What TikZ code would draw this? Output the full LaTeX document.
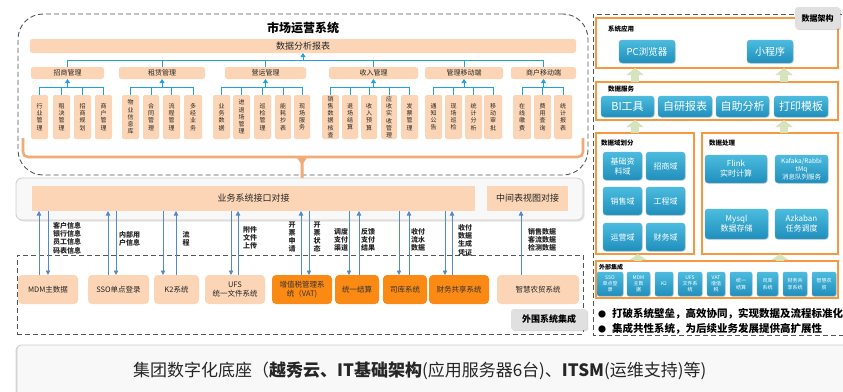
\documentclass[tikz,border=0pt]{standalone}
\usepackage{fontspec}
\setmainfont{Noto Sans CJK SC}
\usetikzlibrary{arrows.meta,shadows}
\definecolor{peach}{RGB}{251,213,181}
\definecolor{orangeF}{RGB}{250,138,20}
\definecolor{cyanL}{RGB}{30,160,225}
\definecolor{blueA}{RGB}{85,135,205}
\definecolor{tealT}{RGB}{75,188,222}
\definecolor{tealB}{RGB}{32,142,188}
\definecolor{orangeB}{RGB}{248,152,62}
\definecolor{orangeL}{RGB}{242,170,118}
\definecolor{greenA}{RGB}{214,228,190}
\definecolor{grayL}{RGB}{224,224,224}
\definecolor{dashgray}{RGB}{85,85,85}
\definecolor{panelF}{RGB}{248,248,248}
\definecolor{panelD}{RGB}{205,205,205}

\newcommand\mybox[7]{%
 \pgfmathsetmacro\mbw{#4-#2}%
 \pgfmathsetmacro\mbh{#5-#3}%
 \pgfmathsetmacro\mbx{(#2+#4)/2}%
 \pgfmathsetmacro\mby{(#3+#5)/2}%
 \node[inner sep=0pt, outer sep=0pt, minimum width=\mbw pt, minimum height=\mbh pt, #6] (#1) at (\mbx,\mby) {#7};}
\newcommand\subb[4]{\mybox{#1}{#2}{95}{#3}{139}{subbox}{#4}}

\tikzset{
 frame/.style={draw=dashgray, dash pattern=on 5pt off 3pt, line width=0.9pt},
 pch/.style={fill=peach, rounded corners=2.5pt, text=black!85},
 cat/.style={pch, font=\fontsize{7}{8}\selectfont},
 subbox/.style={pch, rounded corners=1.5pt, align=center, font=\fontsize{6}{7.2}\selectfont},
 cl/.style={draw=cyanL, line width=0.8pt},
 cla/.style={cl, -{Triangle[width=5pt,length=4pt]}},
 ba/.style={draw=blueA, line width=0.8pt, -{Triangle[width=4.5pt,length=4.5pt]}},
 lab/.style={font=\bfseries\fontsize{7}{8.3}\selectfont, align=center, inner sep=0pt, text=black!85},
 extp/.style={pch, rounded corners=4pt, align=center, font=\fontsize{7.5}{9}\selectfont},
 exto/.style={extp, fill=orangeF, text=black!80},
 obox/.style={draw=orangeB, line width=1.4pt},
 btn/.style={rounded corners=3pt, top color=tealT, bottom color=tealB, draw=tealB!70, text=white, align=center,
   drop shadow={opacity=0.25, shadow xshift=0.8pt, shadow yshift=-0.8pt}},
 ttl/.style={anchor=west, font=\bfseries\fontsize{6.5}{7}\selectfont, inner sep=0pt},
 garr/.style={draw=greenA, line width=8pt, -{Triangle[width=17pt,length=7pt]}},
 glab/.style={fill=grayL, rounded corners=3pt, font=\bfseries\fontsize{9}{10}\selectfont,
   drop shadow={opacity=0.3, shadow xshift=1.2pt, shadow yshift=-1.2pt}},
 panel/.style={fill=panelF, draw=panelD, line width=0.8pt, rounded corners=6pt,
   drop shadow={opacity=0.2, shadow xshift=1.5pt, shadow yshift=-1.5pt}},
}

\begin{document}
\begin{tikzpicture}[x=1pt,y=-1pt]
\useasboundingbox (0,0) rectangle (843,391);
\clip (0,0) rectangle (843,391);
\fill[white] (0,0) rectangle (843,391);

% ================= market system =================
\mybox{mkt}{18}{14}{588}{175}{frame, rounded corners=25pt}{}
\node[font=\bfseries\fontsize{12}{13}\selectfont, inner sep=0pt] (mtitle) at (303,28) {市场运营系统};
\mybox{rep}{30}{39}{576}{53}{pch, font=\fontsize{9}{10}\selectfont}{数据分析报表}

\mybox{c1}{31}{67}{104}{79}{cat}{招商管理}
\mybox{c2}{119}{67}{205}{79}{cat}{租赁管理}
\mybox{c3}{225}{67}{306}{79}{cat}{营运管理}
\mybox{c4}{329}{67}{418}{79}{cat}{收入管理}
\mybox{c5}{425}{67}{503}{79}{cat}{管理移动端}
\mybox{c6}{511}{67}{576}{79}{cat}{商户移动端}

\coordinate (hub) at (rep.south |- 0,60);
\foreach \c in {c1,c2,c3,c4,c5,c6} \draw[cl] (\c.north) |- (hub);
\draw[cla] (hub) -- (rep.south);

\subb{s11}{31}{48}{行\\业\\管\\理}
\subb{s12}{53}{70}{租\\决\\管\\理}
\subb{s13}{74}{91}{招\\商\\规\\划}
\subb{s14}{95}{112}{商\\户\\管\\理}

\subb{s21}{122}{139}{物\\业\\信\\息\\库}
\subb{s22}{143}{159}{合\\同\\管\\理}
\subb{s23}{163}{180}{流\\程\\管\\理}
\subb{s24}{184}{202}{多\\经\\业\\务}

\subb{s31}{213}{230}{业\\务\\数\\据}
\subb{s32}{233}{250}{进\\退\\场\\管\\理}
\subb{s33}{254}{271}{巡\\检\\管\\理}
\subb{s34}{275}{291}{能\\耗\\抄\\表}
\subb{s35}{294}{310}{现\\场\\服\\务}

\subb{s41}{322}{339}{销\\售\\数\\据\\核\\查}
\subb{s42}{342}{358}{退\\场\\结\\算}
\subb{s43}{361}{377}{收\\入\\预\\算}
\subb{s44}{381}{397}{应\\收\\实\\收\\管\\理}
\subb{s45}{401}{418}{发\\票\\管\\理}

\subb{s51}{425}{442}{通\\知\\公\\告}
\subb{s52}{445}{462}{现\\场\\巡\\检}
\subb{s53}{465}{482}{统\\计\\分\\析}
\subb{s54}{484}{502}{移\\动\\审\\批}

\subb{s61}{513}{531}{在\\线\\缴\\费}
\subb{s62}{534}{551}{费\\用\\查\\询}
\subb{s63}{554}{572}{统\\计\\报\\表}

\foreach \i in {1,...,6} \coordinate (h\i) at (c\i.south |- 0,87);
\foreach \s in {s11,s12,s13,s14} \draw[cl] (\s.north) |- (h1);
\foreach \s in {s21,s22,s23,s24} \draw[cl] (\s.north) |- (h2);
\foreach \s in {s31,s32,s33,s34,s35} \draw[cl] (\s.north) |- (h3);
\foreach \s in {s41,s42,s43,s44,s45} \draw[cl] (\s.north) |- (h4);
\foreach \s in {s51,s52,s53,s54} \draw[cl] (\s.north) |- (h5);
\foreach \s in {s61,s62,s63} \draw[cl] (\s.north) |- (h6);
\foreach \i in {1,...,6} \draw[cla] (h\i) -- (c\i.south);

% orange bracket
\draw[orangeL, line width=2.6pt, rounded corners=5pt] (23,138) |- (583,157) -- (583,138);
\fill[orangeL] (296,156) -- (308,156) -- (303.5,163) -- (303.5,180) -- (300.5,180) -- (300.5,163) -- cycle;

% ================= interface panel =================
\mybox{ifp}{16}{178}{583}{220}{panel}{}
\mybox{ifbar}{32}{186}{475}{211}{fill=peach, font=\fontsize{9}{10}\selectfont, text=black!85}{业务系统接口对接}
\mybox{midbar}{487}{186}{568}{211}{fill=peach, font=\fontsize{9}{10}\selectfont, text=black!85}{中间表视图对接}

% ================= external systems =================
\mybox{ext}{17}{255}{583}{334}{frame}{}
\mybox{e1}{18}{275}{78}{304}{extp}{MDM主数据}
\mybox{e2}{88}{275}{149}{304}{extp}{SSO单点登录}
\mybox{e3}{154}{275}{199}{304}{extp}{K2系统}
\mybox{e4}{205}{275}{265}{304}{extp}{UFS\\统一文件系统}
\mybox{e5}{272}{275}{332}{304}{exto}{增值税管理系\\统（VAT)}
\mybox{e6}{335}{275}{379}{304}{exto}{统一结算}
\mybox{e7}{383}{275}{427}{304}{exto}{司库系统}
\mybox{e8}{429}{275}{489}{304}{exto}{财务共享系统}
\mybox{e9}{497}{275}{579}{304}{extp}{智慧农贸系统}
\mybox{extlab}{511}{309}{587}{330}{glab}{外围系统集成}

% arrows up (box -> bar) and down (bar -> box)
\draw[ba] (e1.north -| 39,0) -- (ifbar.south -| 39,0);
\draw[ba] (ifbar.south -| 48,0) -- (e1.north -| 48,0);
\draw[ba] (e2.north -| 108,0) -- (ifbar.south -| 108,0);
\draw[ba] (ifbar.south -| 116,0) -- (e2.north -| 116,0);
\draw[ba] (ifbar.south -| 163,0) -- (e3.north -| 163,0);
\draw[ba] (e3.north -| 176,0) -- (ifbar.south -| 176,0);
\draw[ba] (ifbar.south -| 231,0) -- (e4.north -| 231,0);
\draw[ba] (e4.north -| 238,0) -- (ifbar.south -| 238,0);
\draw[ba] (e5.north -| 301,0) -- (ifbar.south -| 301,0);
\draw[ba] (ifbar.south -| 309,0) -- (e5.north -| 309,0);
\draw[ba] (ifbar.south -| 349,0) -- (e6.north -| 349,0);
\draw[ba] (e6.north -| 359,0) -- (ifbar.south -| 359,0);
\draw[ba] (ifbar.south -| 399,0) -- (e7.north -| 399,0);
\draw[ba] (e7.north -| 409,0) -- (ifbar.south -| 409,0);
\draw[ba] (ifbar.south -| 445,0) -- (e8.north -| 445,0);
\draw[ba] (e8.north -| 452,0) -- (ifbar.south -| 452,0);
\draw[ba] (e9.north -| 521,0) -- (midbar.south -| 521,0);

\node[lab, align=left, anchor=west] (l1) at (53,238) {客户信息\\银行信息\\员工信息\\码表信息};
\node[lab, align=left, anchor=west] (l2) at (119,239) {内部用\\户信息};
\node[lab] (l3) at (186,239) {流\\程};
\node[lab] (l4) at (250,238) {附件\\文件\\上传};
\node[lab] (l5) at (292,237) {开\\票\\申\\请};
\node[lab] (l6) at (317,237) {开\\票\\状\\态};
\node[lab] (l7) at (341,240) {调度\\支付\\渠道};
\node[lab] (l8) at (368,240) {反馈\\支付\\结果};
\node[lab] (l9) at (418,240) {收付\\流水\\数据};
\node[lab] (l10) at (465,240) {收付\\数据\\生成\\凭证};
\node[lab] (l11) at (542,240) {销售数据\\客流数据\\检测数据};

% ================= data architecture =================
\draw[frame] (850,14) -- (593,14) -- (593,335) -- (850,335);

\mybox{sysapp}{596}{18}{838}{68}{obox}{}
\node[ttl] (t1) at (608,29) {系统应用};
\mybox{pc}{619}{40}{675}{63}{btn, font=\fontsize{9.5}{10}\selectfont}{PC浏览器}
\mybox{mini}{747}{40}{793}{63}{btn, font=\fontsize{10}{11}\selectfont}{小程序}

\mybox{dsvc}{596}{82}{838}{120}{obox}{}
\node[ttl] (t2) at (608,89) {数据服务};
\mybox{bi}{601}{96}{654}{117}{btn, font=\fontsize{11}{12}\selectfont}{BI工具}
\mybox{zy}{658}{96}{712}{117}{btn, font=\fontsize{11}{12}\selectfont}{自研报表}
\mybox{zz}{716}{96}{769}{117}{btn, font=\fontsize{11}{12}\selectfont}{自助分析}
\mybox{dy}{774}{96}{828}{117}{btn, font=\fontsize{11}{12}\selectfont}{打印模板}

\mybox{ddom}{596}{133}{694}{254}{obox}{}
\node[ttl] (t3) at (601,143) {数据域划分};
\mybox{d1}{603}{152}{642}{180}{btn, font=\fontsize{8}{10}\selectfont}{基础资\\料域}
\mybox{d2}{646}{152}{685}{180}{btn, font=\fontsize{8}{10}\selectfont}{招商域}
\mybox{d3}{603}{187}{642}{215}{btn, font=\fontsize{8}{10}\selectfont}{销售域}
\mybox{d4}{646}{187}{685}{215}{btn, font=\fontsize{8}{10}\selectfont}{工程域}
\mybox{d5}{603}{223}{642}{251}{btn, font=\fontsize{8}{10}\selectfont}{运营域}
\mybox{d6}{646}{223}{685}{251}{btn, font=\fontsize{8}{10}\selectfont}{财务域}

\mybox{dproc}{702}{133}{838}{254}{obox}{}
\node[ttl] (t4) at (709,143) {数据处理};
\mybox{p1}{705}{155}{767}{183}{btn, font=\fontsize{8}{10}\selectfont}{Flink\\实时计算}
\mybox{p2}{775}{155}{828}{183}{btn, font=\fontsize{6.5}{8}\selectfont}{Kafaka/Rabbi\\tMq\\消息队列服务}
\mybox{p3}{705}{209}{768}{239}{btn, font=\fontsize{8}{10}\selectfont}{Mysql\\数据存储}
\mybox{p4}{775}{209}{828}{239}{btn, font=\fontsize{8}{10}\selectfont}{Azkaban\\任务调度}

\mybox{extint}{596}{261}{838}{298}{obox}{}
\node[ttl, font=\bfseries\fontsize{6}{7}\selectfont] (t5) at (599,267) {外部集成};
\mybox{x1}{597}{272}{623}{296}{btn, rounded corners=2pt, font=\fontsize{5}{6.3}\selectfont}{SSO\\单点登\\录}
\mybox{x2}{627}{272}{650}{296}{btn, rounded corners=2pt, font=\fontsize{5}{6.3}\selectfont}{MDM\\主数\\据}
\mybox{x3}{655}{272}{673}{296}{btn, rounded corners=2pt, font=\fontsize{5}{6.3}\selectfont}{K2}
\mybox{x4}{678}{272}{702}{296}{btn, rounded corners=2pt, font=\fontsize{5}{6.3}\selectfont}{UFS\\文件系\\统}
\mybox{x5}{707}{272}{725}{296}{btn, rounded corners=2pt, font=\fontsize{5}{6.3}\selectfont}{VAT\\增值\\税}
\mybox{x6}{730}{272}{752}{296}{btn, rounded corners=2pt, font=\fontsize{5}{6.3}\selectfont}{统一\\结算}
\mybox{x7}{757}{272}{778}{296}{btn, rounded corners=2pt, font=\fontsize{5}{6.3}\selectfont}{司库\\系统}
\mybox{x8}{783}{272}{807}{296}{btn, rounded corners=2pt, font=\fontsize{5}{6.3}\selectfont}{财务共\\享系统}
\mybox{x9}{812}{272}{836}{296}{btn, rounded corners=2pt, font=\fontsize{5}{6.3}\selectfont}{智慧农\\贸}

% green block arrows
\draw[garr] (dsvc.north -| 635,0) -- (sysapp.south -| 635,0);
\draw[garr] (dsvc.north -| 784,0) -- (sysapp.south -| 784,0);
\draw[garr] (ddom.north -| 635,0) -- (dsvc.south -| 635,0);
\draw[garr] (dproc.north -| 784,0) -- (dsvc.south -| 784,0);
\draw[garr, -{Triangle[width=17pt,length=6pt]}] (extint.north -| 638,0) -- (ddom.south -| 638,0);
\draw[garr, -{Triangle[width=17pt,length=6pt]}] (extint.north -| 780,0) -- (dproc.south -| 780,0);

\mybox{dalab}{795}{7}{840}{29}{glab, font=\bfseries\fontsize{8}{9}\selectfont}{数据架构}

% bullets
\node[inner sep=0pt, font=\fontsize{8}{9}\selectfont] (b1) at (602,314) {●};
\node[anchor=west, inner sep=0pt, font=\bfseries\fontsize{10.5}{12}\selectfont] (bt1) at (612,314) {打破系统壁垒，高效协同，实现数据及流程标准化};
\node[inner sep=0pt, font=\fontsize{8}{9}\selectfont] (b2) at (602,329) {●};
\node[anchor=west, inner sep=0pt, font=\bfseries\fontsize{10.5}{12}\selectfont] (bt2) at (612,329) {集成共性系统，为后续业务发展提供高扩展性};

% ================= bottom banner =================
\mybox{banner}{17}{345}{880}{420}{fill=panelF, draw=panelD, line width=0.8pt, rounded corners=4pt,
   drop shadow={opacity=0.3, shadow xshift=-1.5pt, shadow yshift=-1pt}}{}
\node[anchor=west, inner sep=0pt, font=\fontsize{17}{19}\selectfont, text=black!85] (bantext) at (133,371)
  {集团数字化底座（\textbf{越秀云、IT基础架构}(应用服务器6台)、\textbf{ITSM}(运维支持)等)};
\end{tikzpicture}
\end{document}
